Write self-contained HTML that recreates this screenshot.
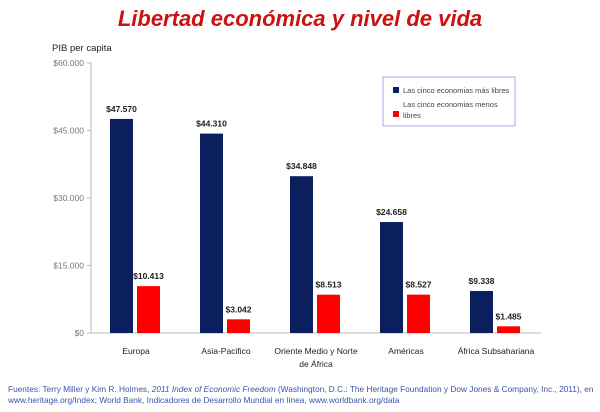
<!DOCTYPE html>
<html><head><meta charset="utf-8"><style>
body{margin:0;background:#fff;width:600px;height:407px;overflow:hidden;font-family:"Liberation Sans",sans-serif}
</style></head><body>
<svg width="600" height="407" xmlns="http://www.w3.org/2000/svg">
<text x="300" y="26" text-anchor="middle" font-size="22" font-weight="bold" font-style="italic" fill="#cc1111">Libertad económica y nivel de vida</text>
<text x="52" y="51" font-size="9.5" fill="#222">PIB per capita</text>
<g id="axes"></g>
<g id="bars"></g>
<g>
<rect x="383" y="77" width="132" height="49" fill="#fff" stroke="#aaaadd" stroke-width="1"/>
<rect x="393" y="87" width="6" height="6" fill="#0b1f5e"/>
<text x="403" y="93" font-size="7.5" fill="#444">Las cinco economias más libres</text>
<rect x="393" y="111" width="6" height="6" fill="#ff0000"/>
<text x="403" y="107" font-size="7.5" fill="#444">Las cinco economias menos</text>
<text x="403" y="118" font-size="7.5" fill="#444">libres</text>
</g>
<text x="8" y="392" font-size="8.3" fill="#3a56a8">Fuentes: Terry Miller y Kim R. Holmes, <tspan font-style="italic">2011 Index of Economic Freedom</tspan> (Washington, D.C.: The Heritage Foundation y Dow Jones &amp; Company, Inc., 2011), en</text>
<text x="8" y="403" font-size="8.3" fill="#3a56a8">www.heritage.org/Index; World Bank, Indicadores de Desarrollo Mundial en línea, www.worldbank.org/data</text>
</svg>
<script>
const categories=[["Europa"],["Asia-Pacifico"],["Oriente Medio y Norte","de África"],["Américas"],["África Subsahariana"]];
const freeValues=[47570,44310,34848,24658,9338];
const unfreeValues=[10413,3042,8513,8527,1485];
const tickValues=[0,15000,30000,45000,60000];
const tickLabels=["$0","$15.000","$30.000","$45.000","$60.000"];
const NS="http://www.w3.org/2000/svg";
const x0=91,catW=90,y0=333,yTop=63,maxV=60000;
const y=v=>y0-(v/maxV)*(y0-yTop);
const fmt=v=>"$"+v.toLocaleString("de-DE");
function mk(tag,attrs,parent,txt){const e=document.createElementNS(NS,tag);for(const k in attrs)e.setAttribute(k,attrs[k]);if(txt!==undefined)e.textContent=txt;parent.appendChild(e);return e;}
const ax=document.getElementById("axes"),bg=document.getElementById("bars");
const yl=mk("line",{x1:x0,x2:x0,y1:yTop,y2:y0,stroke:"#bbb"},ax);


const xl=mk("line",{x1:x0,x2:x0+catW*5,y1:y0,y2:y0,stroke:"#bbb"},ax);


tickValues.forEach((v,i)=>{
 mk("line",{x1:x0-4,x2:x0,y1:y(v),y2:y(v),stroke:"#bbb"},ax);
 const t=mk("text",{x:x0-7,y:y(v)+3,"text-anchor":"end","font-size":"8.5",fill:"#777"},ax,tickLabels[i]);
 
 
});
categories.forEach((c,i)=>{
 const cx=x0+catW*i;
 const b1=mk("rect",{x:cx+19,y:y(freeValues[i]),width:23,height:y0-y(freeValues[i]),fill:"#0b1f5e"},bg);
 
 
 const b2=mk("rect",{x:cx+46,y:y(unfreeValues[i]),width:23,height:y0-y(unfreeValues[i]),fill:"#ff0000"},bg);
 
 
 const l1=mk("text",{x:cx+30.5,y:y(freeValues[i])-7,"text-anchor":"middle","font-size":"8.5","font-weight":"bold",fill:"#222"},bg,fmt(freeValues[i]));
 
 
 const l2=mk("text",{x:cx+57.5,y:y(unfreeValues[i])-7,"text-anchor":"middle","font-size":"8.5","font-weight":"bold",fill:"#222"},bg,fmt(unfreeValues[i]));
 
 
 c.forEach((line,j)=>{
  const t=mk("text",{x:cx+45,y:354+j*13,"text-anchor":"middle","font-size":"8.5",fill:"#222"},ax,line);
  
  
 });
});
</script>
</body></html>
